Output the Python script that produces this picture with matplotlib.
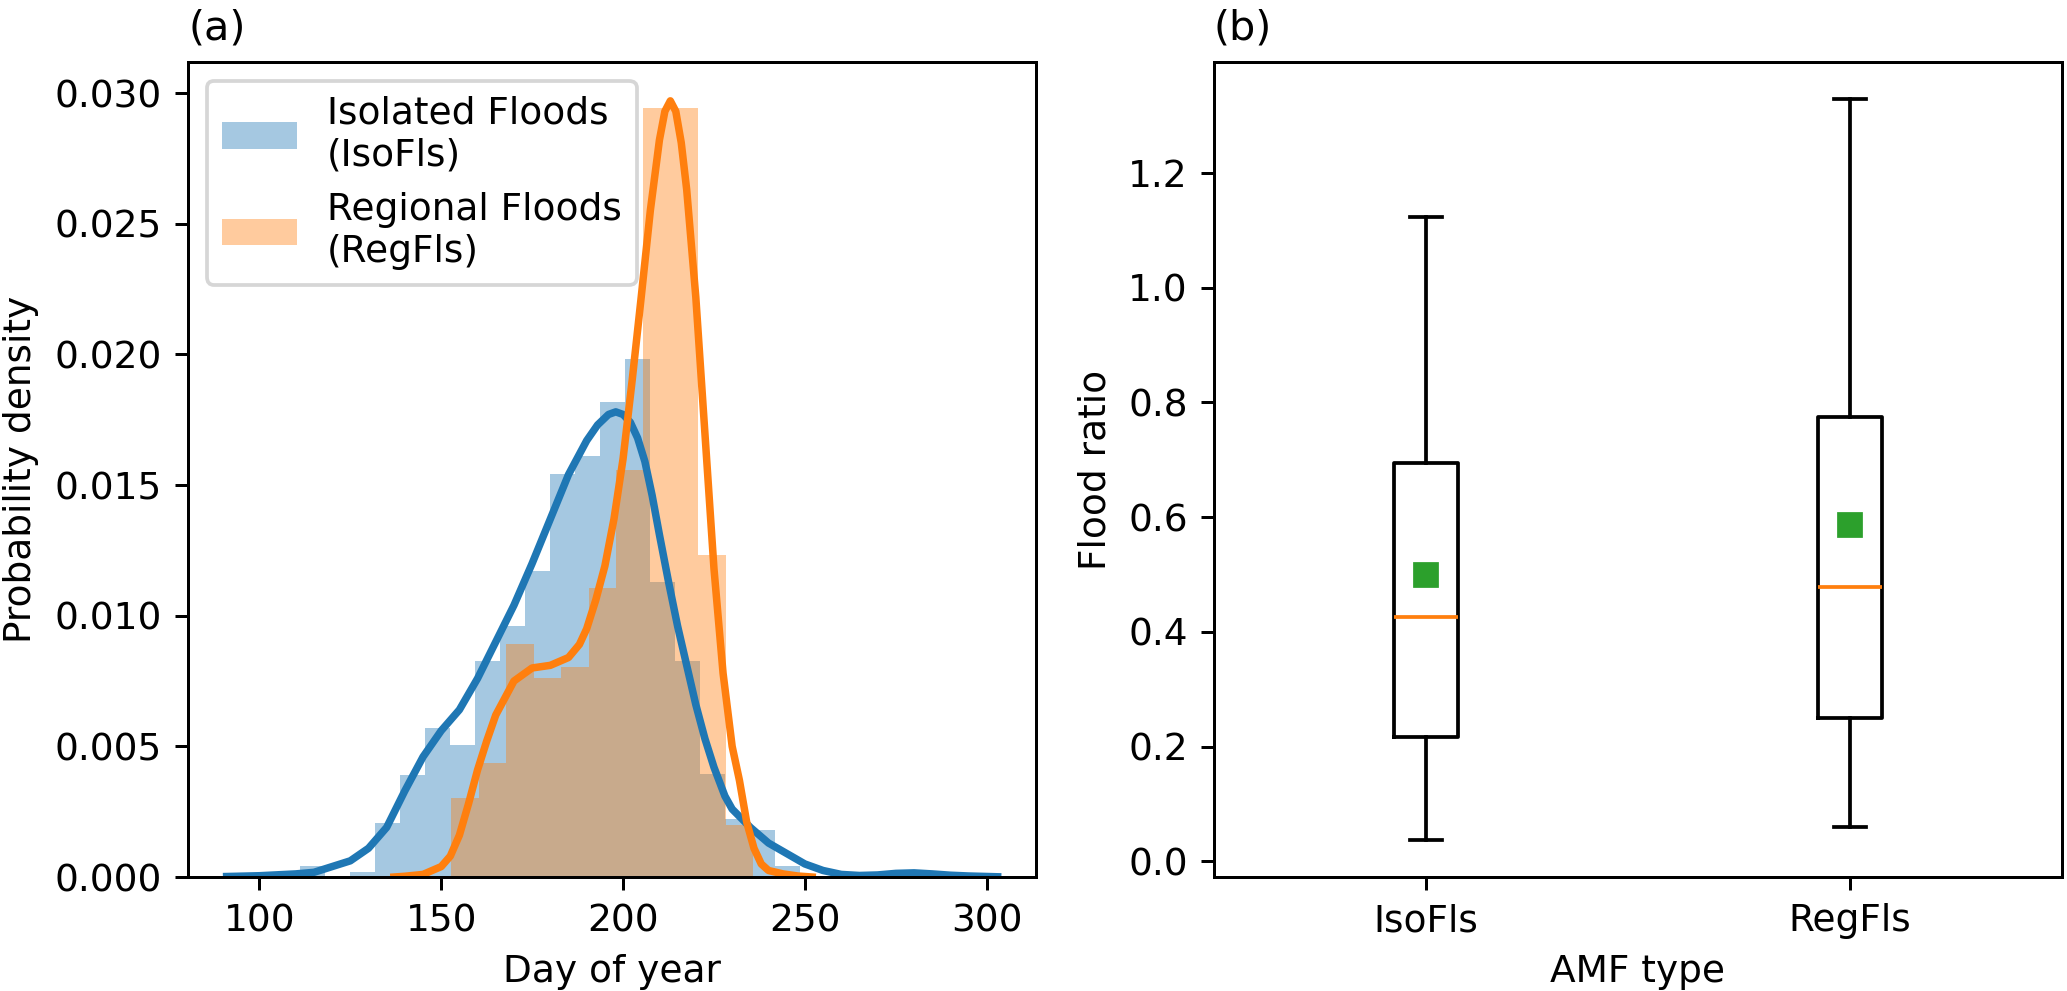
import matplotlib
matplotlib.use("Agg")
import matplotlib.pyplot as plt
import numpy as np

# (a) histogram bins: start, bin width and density of each bin
iso_start = 111.1
iso_width = 6.88
iso_hist = [0.00041, 0.0, 0.00019, 0.00205, 0.00389, 0.00572, 0.00507, 0.00826,
            0.00961, 0.01171, 0.01541, 0.01611, 0.01816, 0.01981, 0.01128, 0.00826,
            0.00394, 0.00222, 0.00181, 0.00041, 0.0, 0.0, 0.0, 0.0, 0.00021]

reg_start = 152.7
reg_width = 7.56
reg_hist = [0.00302, 0.00435, 0.00891, 0.00761, 0.00804, 0.01106, 0.01558,
            0.02944, 0.02944, 0.01232, 0.00200]

# (a) kernel density curves
iso_kde_x = [91, 100, 110, 115, 120, 125, 130, 135, 140, 145, 150, 155, 160, 165,
             170, 175, 180, 185, 190, 193, 196, 198, 200, 202, 204, 206, 208, 210,
             212.5, 215, 217.5, 220, 222.5, 225, 228, 230, 235, 240, 245, 250, 255,
             260, 265, 270, 275, 280, 285, 290, 295, 303]
iso_kde_y = [0.00002, 0.00005, 0.00012, 0.00018, 0.0004, 0.00062, 0.0011, 0.0019,
             0.0033, 0.0046, 0.0056, 0.0064, 0.0076, 0.0090, 0.0104, 0.0120, 0.0137,
             0.0154, 0.0167, 0.0173, 0.0177, 0.0178, 0.0177, 0.0174, 0.0168, 0.0159,
             0.0146, 0.0131, 0.0113, 0.0096, 0.0081, 0.0066, 0.0053, 0.0042, 0.0031,
             0.0026, 0.0019, 0.0013, 0.0009, 0.0005, 0.00025, 0.0001, 0.00006,
             0.00008, 0.00014, 0.00016, 0.00012, 0.00007, 0.00004, 0.00001]

reg_kde_x = [137, 140, 145, 150, 152.5, 155, 157.5, 160, 162.5, 165, 170, 175, 180,
             185, 188, 190, 192.5, 195, 197.5, 200, 202.5, 205, 207.5, 210, 211.5,
             213, 214.5, 216, 217.5, 220, 222.5, 225, 227.5, 230, 232, 234, 236, 238,
             240, 244, 248, 252]
reg_kde_y = [0.0, 0.00003, 0.0001, 0.0004, 0.0008, 0.0016, 0.0028, 0.0041, 0.0052,
             0.0062, 0.0075, 0.0080, 0.0081, 0.0084, 0.0089, 0.0095, 0.0106, 0.0119,
             0.0137, 0.0160, 0.0190, 0.0222, 0.0255, 0.0282, 0.0293, 0.0297, 0.0293,
             0.0281, 0.0263, 0.0222, 0.0170, 0.0118, 0.0078, 0.0050, 0.0037, 0.0021,
             0.0011, 0.0005, 0.00025, 0.00012, 0.00004, 0.0]

# (b) box plot statistics
amf_types = ["IsoFls", "RegFls"]
ratio_whislo = [0.037, 0.060]
ratio_q1 = [0.216, 0.249]
ratio_med = [0.426, 0.479]
ratio_q3 = [0.694, 0.774]
ratio_whishi = [1.124, 1.329]
ratio_mean = [0.499, 0.587]

fig = plt.figure(figsize=(2067 / 270, 991 / 270), dpi=270)
ax1 = fig.add_axes([0.0910, 0.1150, 0.4103, 0.8224])
ax2 = fig.add_axes([0.5873, 0.1150, 0.4103, 0.8224])

# panel (a): histograms with density curves
iso_edges = iso_start + iso_width * np.arange(len(iso_hist))
reg_edges = reg_start + reg_width * np.arange(len(reg_hist))
ax1.bar(iso_edges, iso_hist, width=iso_width, align="edge", color="C0",
        alpha=0.4, linewidth=0, label="Isolated Floods\n(IsoFls)")
ax1.bar(reg_edges, reg_hist, width=reg_width, align="edge", color="C1",
        alpha=0.4, linewidth=0, label="Regional Floods\n(RegFls)")
ax1.plot(iso_kde_x, iso_kde_y, color="C0", lw=2)
ax1.plot(reg_kde_x, reg_kde_y, color="C1", lw=2)
ax1.set_ylim(bottom=0)
ax1.set_xticks([100, 150, 200, 250, 300])
ax1.set_xlabel("Day of year")
ax1.set_ylabel("Probability density")
ax1.set_title("(a)", loc="left", fontsize=11)
ax1.legend(loc="upper left")

# panel (b): box plot of flood ratio
stats = []
for i in range(len(amf_types)):
    stats.append({"label": amf_types[i], "whislo": ratio_whislo[i], "q1": ratio_q1[i],
                  "med": ratio_med[i], "q3": ratio_q3[i], "whishi": ratio_whishi[i],
                  "mean": ratio_mean[i]})
ax2.bxp(stats, showmeans=True, showfliers=False,
        meanprops={"marker": "s", "markerfacecolor": "C2", "markeredgecolor": "C2"})
ax2.set_xlabel("AMF type")
ax2.set_ylabel("Flood ratio")
ax2.set_title("(b)", loc="left", fontsize=11)

fig.savefig("out.png", dpi=270)
